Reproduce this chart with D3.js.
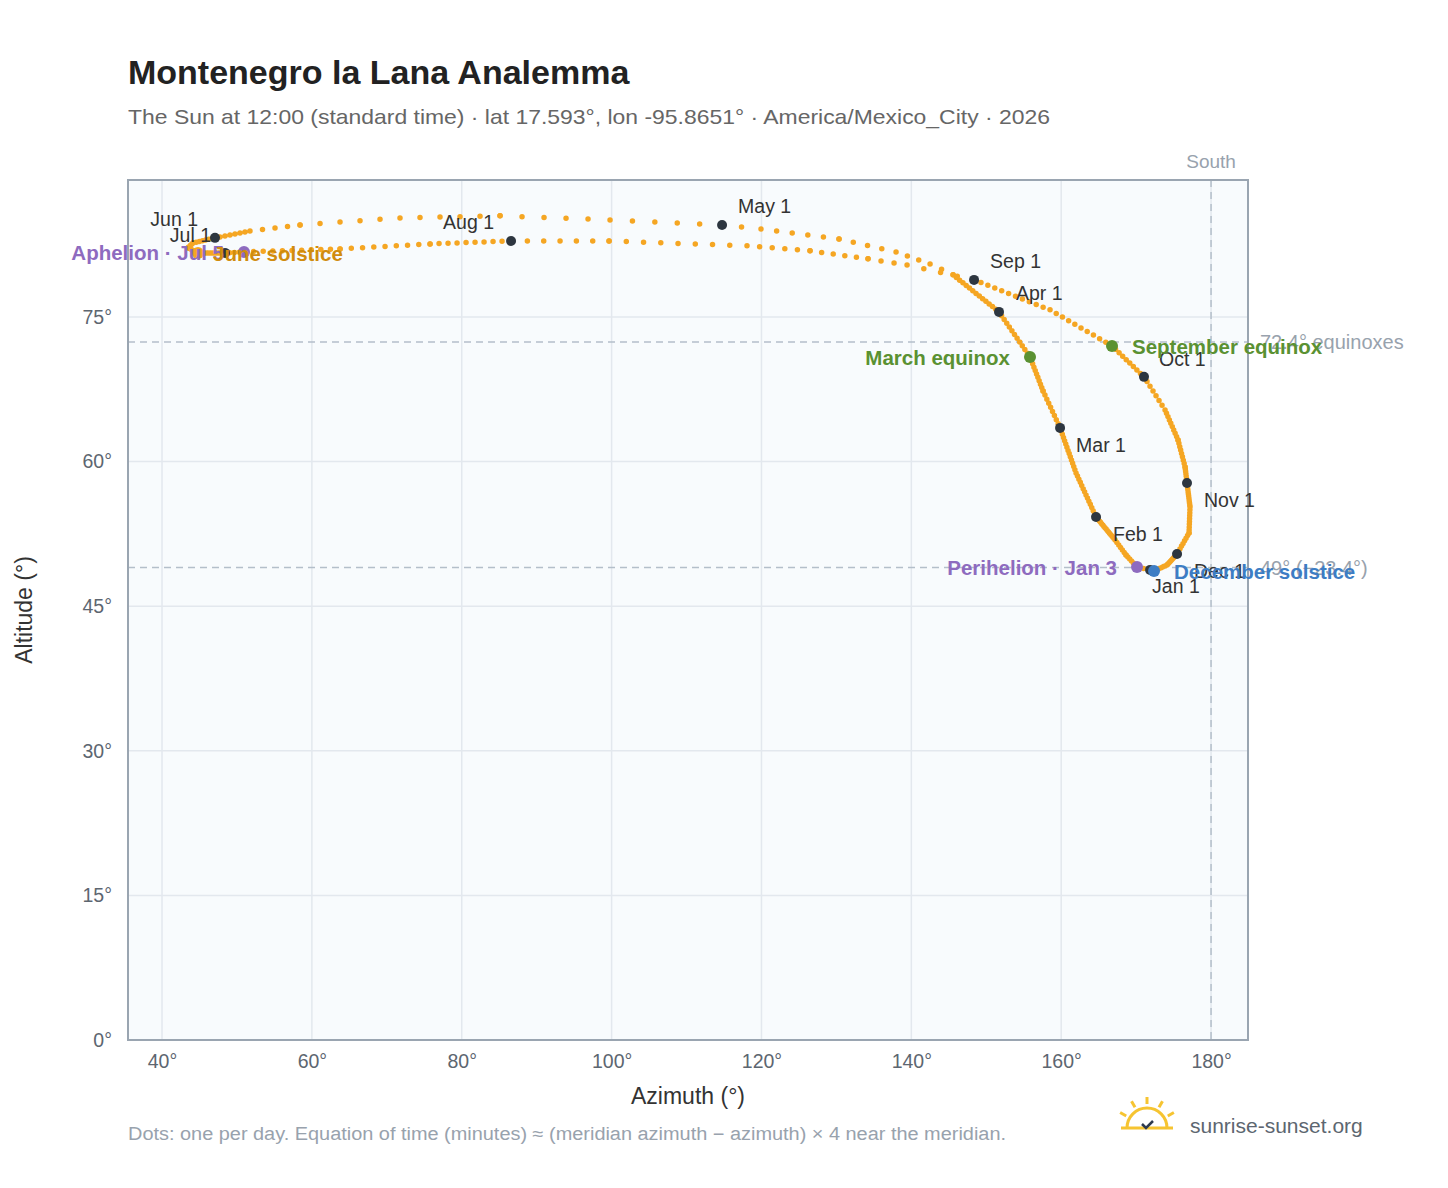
<!DOCTYPE html>
<html>
<head>
<meta charset="utf-8">
<script src="https://cdn.jsdelivr.net/npm/d3@7"></script>
<style>
  body { margin: 0; background: #fff; font-family: "Liberation Sans", Arial, sans-serif; }
  text { font-family: "Liberation Sans", Arial, sans-serif; }
</style>
</head>
<body>
<div id="chart"></div>
<script>
const dates = ["Jan 1","Jan 3","Jan 9","Jan 15","Feb 1","Feb 15","Mar 1","Mar 10","Mar 20","Apr 1","Apr 15","Apr 17","Apr 20","Apr 24","Apr 29",
  "May 1","May 6","May 11","May 16","May 21","May 25","Jun 1","Jun 8","Jun 14","Jun 21","Jul 1","Jul 5","Jul 15","Jul 23",
  "Aug 1","Aug 7","Aug 15","Aug 20","Aug 25","Aug 28","Sep 1","Sep 12","Sep 22","Oct 1","Oct 8","Oct 17","Oct 25",
  "Nov 1","Nov 14","Nov 23","Dec 1","Dec 12","Dec 21"];
const dayOfYear = [1,3,9,15,32,46,60,69,79,91,105,107,110,114,119,121,126,131,136,141,145,152,159,165,172,182,186,196,204,
  213,219,227,232,237,240,244,255,265,274,281,290,298,305,318,327,335,346,355];
const azimuth = [171.86,170.12,168.65,167.19,164.65,161.98,159.85,157.58,155.84,151.70,145.57,142.50,137.96,130.35,119.94,
  114.74,99.79,85.11,71.76,58.42,51.74,47.07,44.14,43.47,44.80,48.41,50.94,63.76,75.77,
  86.58,99.66,118.07,126.48,134.22,139.43,148.37,158.51,166.78,171.05,173.86,175.59,176.53,
  176.79,177.19,177.06,175.46,174.12,172.39];
const altitude = [48.76,49.07,50.31,51.87,54.25,58.82,63.49,67.32,70.85,75.52,79.36,80.50,81.74,83.09,84.13,
  84.54,85.06,85.48,85.27,84.54,83.90,83.20,82.68,82.16,81.64,81.64,81.74,82.05,82.57,
  82.88,82.88,82.37,81.85,81.02,80.39,78.84,75.73,71.99,68.78,65.35,62.24,59.44,
  57.78,55.29,52.59,50.41,49.27,48.65];

const monthDates = ["Jan 1","Feb 1","Mar 1","Apr 1","May 1","Jun 1","Jul 1","Aug 1","Sep 1","Oct 1","Nov 1","Dec 1"];
const eventNames = ["March equinox","September equinox","December solstice","Perihelion · Jan 3","Aphelion · Jul 5","June solstice"];
const eventDates = ["Mar 20","Sep 22","Dec 21","Jan 3","Jul 5","Jun 21"];
const refAltitudes = [72.4, 49.0];
const refLabels = ["72.4° equinoxes", "49° (−23.4°)"];
const xTicks = [40,60,80,100,120,140,160,180];
const yTicks = [0,15,30,45,60,75];

const width = 1448, height = 1188;
const margin = { top: 180, right: 200, bottom: 148, left: 128 };

const svg = d3.select("#chart").append("svg")
    .attr("width", width).attr("height", height);

const x = d3.scaleLinear().domain([35.46, 184.93]).range([margin.left, width - margin.right]);
const y = d3.scaleLinear().domain([0, 89.2]).range([height - margin.bottom, margin.top]);

const pts = dates.map((d, i) => ({ date: d, doy: dayOfYear[i], az: azimuth[i], alt: altitude[i] }));
const byDate = new Map(pts.map(p => [p.date, p]));

// plot background
svg.append("rect")
    .attr("x", x.range()[0]).attr("y", y.range()[1])
    .attr("width", x.range()[1] - x.range()[0]).attr("height", y.range()[0] - y.range()[1])
    .attr("fill", "#f8fbfd");

// grid
svg.append("g").selectAll("line").data(xTicks).join("line")
    .attr("x1", d => x(d)).attr("x2", d => x(d))
    .attr("y1", y.range()[1]).attr("y2", y.range()[0])
    .attr("stroke", "#e3e8ee").attr("stroke-width", 1.5);
svg.append("g").selectAll("line").data(yTicks).join("line")
    .attr("x1", x.range()[0]).attr("x2", x.range()[1])
    .attr("y1", d => y(d)).attr("y2", d => y(d))
    .attr("stroke", "#e3e8ee").attr("stroke-width", 1.5);

// reference lines
svg.append("g").selectAll("line").data(refAltitudes).join("line")
    .attr("x1", x.range()[0]).attr("x2", x.range()[1])
    .attr("y1", d => y(d)).attr("y2", d => y(d))
    .attr("stroke", "#b4bfca").attr("stroke-width", 1.5).attr("stroke-dasharray", "7,5");
svg.append("g").selectAll("text").data(refAltitudes).join("text")
    .attr("x", x.range()[1] + 12).attr("y", d => y(d) + 7)
    .attr("fill", "#98a2ad").attr("font-size", 20)
    .text((d, i) => refLabels[i]);

svg.append("line")
    .attr("x1", x(180)).attr("x2", x(180))
    .attr("y1", y.range()[1]).attr("y2", y.range()[0])
    .attr("stroke", "#b4bfca").attr("stroke-width", 1.5).attr("stroke-dasharray", "7,5");
svg.append("text").attr("x", x(180)).attr("y", y.range()[1] - 12)
    .attr("text-anchor", "middle").attr("fill", "#98a2ad").attr("font-size", 19).text("South");

// frame
svg.append("rect")
    .attr("x", x.range()[0]).attr("y", y.range()[1])
    .attr("width", x.range()[1] - x.range()[0]).attr("height", y.range()[0] - y.range()[1])
    .attr("fill", "none").attr("stroke", "#9aa5b1").attr("stroke-width", 2);

// axes
const xAxis = svg.append("g").attr("transform", `translate(0,${y.range()[0]})`)
    .call(d3.axisBottom(x).tickValues(xTicks).tickFormat(d => d + "°").tickSize(0).tickPadding(14));
const yAxis = svg.append("g").attr("transform", `translate(${x.range()[0]},0)`)
    .call(d3.axisLeft(y).tickValues(yTicks).tickFormat(d => d + "°").tickSize(0).tickPadding(16));
[xAxis, yAxis].forEach(a => {
    a.select(".domain").remove();
    a.selectAll("text").attr("fill", "#5d6670").attr("font-size", 19.5)
        .attr("font-family", "'Liberation Sans', Arial, sans-serif");
});

svg.append("text").attr("x", (x.range()[0] + x.range()[1]) / 2).attr("y", 1104)
    .attr("text-anchor", "middle").attr("fill", "#333").attr("font-size", 23).text("Azimuth (°)");
svg.append("text").attr("transform", `translate(32,${(y.range()[0] + y.range()[1]) / 2}) rotate(-90)`)
    .attr("text-anchor", "middle").attr("fill", "#333").attr("font-size", 23).text("Altitude (°)");

// analemma: one dot per day along each sampled segment
const loop = pts.concat([{ ...pts[0], doy: pts[0].doy + 365 }]);
const segs = d3.pairs(loop);
svg.append("g").selectAll("line").data(segs).join("line")
    .attr("x1", d => x(d[0].az)).attr("y1", d => y(d[0].alt))
    .attr("x2", d => x(d[1].az)).attr("y2", d => y(d[1].alt))
    .attr("stroke", "#f5a623").attr("stroke-width", 5.5).attr("stroke-linecap", "round")
    .attr("stroke-dasharray", d => {
        const len = Math.hypot(x(d[1].az) - x(d[0].az), y(d[1].alt) - y(d[0].alt));
        return `0 ${Math.max(len / (d[1].doy - d[0].doy), 0.01)}`;
    });

// month markers
const monthOffsets = {
    "Jan 1": [2, 23, "start"], "Feb 1": [17, 24, "start"], "Mar 1": [16, 24, "start"], "Apr 1": [17, -12, "start"],
    "May 1": [16, -12, "start"], "Jun 1": [-17, -12, "end"], "Jul 1": [-14, -11, "end"], "Aug 1": [-17, -12, "end"],
    "Sep 1": [16, -12, "start"], "Oct 1": [15, -11, "start"], "Nov 1": [17, 24, "start"], "Dec 1": [17, 24, "start"]
};
const months = monthDates.map(d => byDate.get(d));
svg.append("g").selectAll("circle").data(months).join("circle")
    .attr("cx", d => x(d.az)).attr("cy", d => y(d.alt)).attr("r", 5)
    .attr("fill", "#2d3640");
svg.append("g").selectAll("text").data(months).join("text")
    .attr("x", d => x(d.az) + monthOffsets[d.date][0])
    .attr("y", d => y(d.alt) + monthOffsets[d.date][1])
    .attr("text-anchor", d => monthOffsets[d.date][2])
    .attr("fill", "#333").attr("font-size", 19.5).text(d => d.date);

// events
const eventColors = ["#5a9132", "#5a9132", "#3d7dc4", "#8e6bbf", "#8e6bbf", "#d08c0e"];
const eventLabelSide = ["end", "start", "start", "end", "end", "start"];
const events = eventDates.map((d, i) => ({ ...byDate.get(d), name: eventNames[i], color: eventColors[i], side: eventLabelSide[i] }));
svg.append("g").selectAll("circle").data(events).join("circle")
    .attr("cx", d => x(d.az)).attr("cy", d => y(d.alt)).attr("r", 6)
    .attr("fill", d => d.name === "June solstice" ? "#f5a623" : d.color);
svg.append("g").selectAll("text").data(events).join("text")
    .attr("x", d => x(d.az) + (d.side === "end" ? -20 : (d.name === "June solstice" ? 15 : 20)))
    .attr("y", d => y(d.alt) + 8)
    .attr("text-anchor", d => d.side)
    .attr("fill", d => d.color).attr("font-size", 20.5).attr("font-weight", "bold")
    .text(d => d.name);

// titles
svg.append("text").attr("x", 128).attr("y", 84).attr("font-size", 34).attr("font-weight", "bold")
    .attr("fill", "#222").text("Montenegro la Lana Analemma");
svg.append("text").attr("x", 128).attr("y", 124).attr("font-size", 21).attr("fill", "#666")
    .attr("textLength", 922).attr("lengthAdjust", "spacingAndGlyphs")
    .text("The Sun at 12:00 (standard time) · lat 17.593°, lon -95.8651° · America/Mexico_City · 2026");
svg.append("text").attr("x", 128).attr("y", 1140).attr("font-size", 18).attr("fill", "#98a2ad")
    .attr("textLength", 878).attr("lengthAdjust", "spacingAndGlyphs")
    .text("Dots: one per day. Equation of time (minutes) ≈ (meridian azimuth − azimuth) × 4 near the meridian.");

// logo
const logo = svg.append("g").attr("transform", "translate(1147,1128)");
logo.append("path").attr("d", "M-20,0 A20,20 0 0 1 20,0").attr("fill", "none")
    .attr("stroke", "#f6c431").attr("stroke-width", 3);
logo.append("line").attr("x1", -26).attr("x2", 26).attr("y1", 0).attr("y2", 0)
    .attr("stroke", "#f6c431").attr("stroke-width", 3);
[-60, -30, 0, 30, 60].forEach(a => {
    const r = a * Math.PI / 180;
    logo.append("line")
        .attr("x1", 24 * Math.sin(r)).attr("y1", -24 * Math.cos(r))
        .attr("x2", 31 * Math.sin(r)).attr("y2", -31 * Math.cos(r))
        .attr("stroke", "#f6c431").attr("stroke-width", 3);
});
logo.append("path").attr("d", "M-5,-4 L-1,0 L6,-7").attr("fill", "none")
    .attr("stroke", "#2d3a4f").attr("stroke-width", 2.5);
svg.append("text").attr("x", 1190).attr("y", 1133).attr("font-size", 21).attr("fill", "#5d6670")
    .text("sunrise-sunset.org");
</script>
</body>
</html>
